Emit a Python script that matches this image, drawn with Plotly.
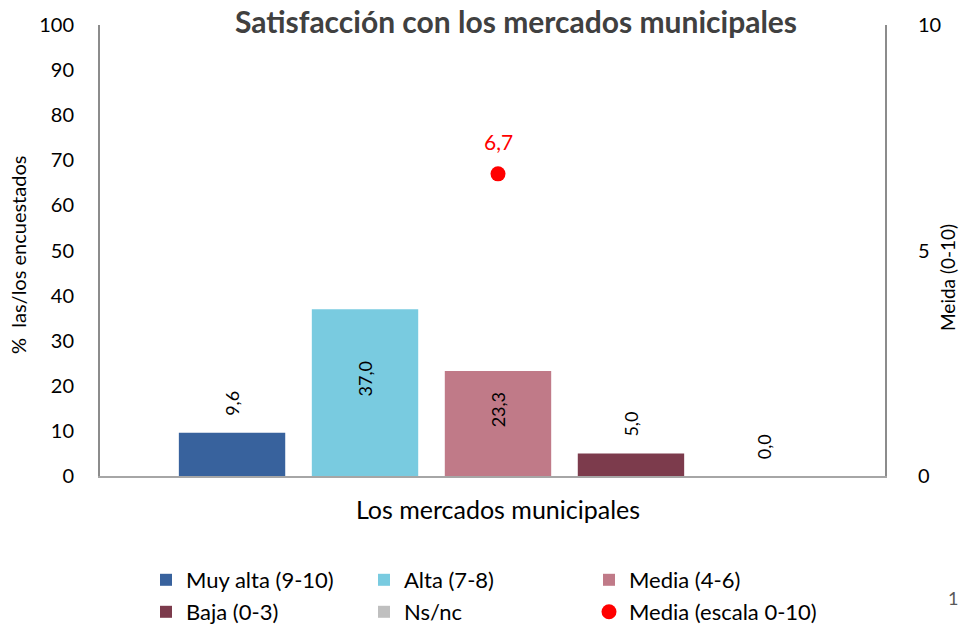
import plotly.graph_objects as go

category = ["Los mercados municipales"]
series_names = ["Muy alta (9-10)", "Alta (7-8)", "Media (4-6)", "Baja (0-3)", "Ns/nc"]
series_values = [9.6, 37.0, 23.3, 5.0, 0.0]
series_colors = ["#38629D", "#79CBE0", "#C07A88", "#7C3B4C", "#BFBFBF"]
label_positions = ["outside", "inside", "inside", "outside", "outside"]
mean_name = "Media (escala 0-10)"
mean_value = [6.7]
left_ticks = [0, 10, 20, 30, 40, 50, 60, 70, 80, 90, 100]
right_ticks = [0, 5, 10]

FONT = "Lato, Carlito, 'Open Sans', sans-serif"
PAD_OUT = "\u00a0\u00a0\u00a0"
PAD_IN = "\u00a0\u00a0\u00a0\u00a0\u00a0\u00a0"

W, H = 960, 627
L, R, T, B = 100, 75, 25, 151
pw, ph = W - L - R, H - T - B

def px_x(x):
    return (x - L) / pw

def px_y(y):
    return (H - B - y) / ph

# legend slots (one legend per entry): left edge px, row centre px
legend_slots = [(146, 580), (364, 580), (589, 580), (146, 612), (364, 612), (589, 612)]
legend_ids = ["legend", "legend2", "legend3", "legend4", "legend5", "legend6"]

fig = go.Figure()
for i, (name, val, col, pos) in enumerate(zip(series_names, series_values, series_colors, label_positions)):
    pad = PAD_OUT if pos == "outside" else PAD_IN
    fig.add_trace(go.Bar(
        x=category, y=[val], name=name,
        marker=dict(color=col, line=dict(width=0)),
        texttemplate=pad + "%{y:.1f}", textposition=pos, textangle=-90,
        insidetextanchor="middle", constraintext="none",
        textfont=dict(family=FONT, size=18, color="#000000"),
        cliponaxis=False, showlegend=True,
        legend=legend_ids[i],
    ))

fig.add_trace(go.Scatter(
    x=category, y=mean_value, name=mean_name, yaxis="y2",
    mode="markers",
    marker=dict(color="#FF0000", size=15),
    cliponaxis=False, showlegend=True,
    legend=legend_ids[5],
))

legend_layout = {}
for lid, (lx, ly) in zip(legend_ids, legend_slots):
    legend_layout[lid] = dict(
        orientation="h", xref="paper", yref="paper",
        xanchor="left", yanchor="middle",
        x=px_x(lx), y=px_y(ly),
        font=dict(family=FONT, size=22, color="#000000"),
        bgcolor="rgba(0,0,0,0)", itemclick=False,
    )

annotations = [
    dict(text="%  las/los encuestados", textangle=-90, showarrow=False,
         xref="paper", yref="paper", x=px_x(18), y=px_y(255),
         xanchor="center", yanchor="middle",
         font=dict(family=FONT, size=20, color="#000000")),
    dict(text="Meida (0-10)", textangle=-90, showarrow=False,
         xref="paper", yref="paper", x=px_x(947), y=px_y(278),
         xanchor="center", yanchor="middle",
         font=dict(family=FONT, size=19, color="#000000")),
    dict(text="1", showarrow=False, xref="paper", yref="paper",
         x=px_x(960), y=px_y(598), xanchor="right", yanchor="middle",
         font=dict(family=FONT, size=18, color="#595959")),
]
for v in mean_value:
    annotations.append(dict(
        text=f"{v:.1f}".replace(".", ","), showarrow=False,
        xref="x", yref="y2", x=category[0], y=v, yshift=32,
        xanchor="center", yanchor="middle",
        font=dict(family=FONT, size=21, color="#FF0000"),
    ))

fig.update_layout(
    width=W, height=H,
    showlegend=True,
    margin=dict(l=L, r=R, t=T, b=B, autoexpand=False),
    paper_bgcolor="white", plot_bgcolor="white",
    separators=",.",
    barmode="group", bargap=0.153, bargroupgap=0.2,
    font=dict(family=FONT, color="#000000"),
    title=dict(
        text="<b>Satisfacción con los mercados municipales</b>",
        x=516 / W, xref="container", xanchor="center",
        y=1 - 22 / H, yref="container", yanchor="middle",
        font=dict(family=FONT, size=30, color="#404040"),
    ),
    xaxis=dict(
        type="category", range=[-0.507, 0.493],
        showline=True, linecolor="#A6A6A6", linewidth=2,
        ticks="", showgrid=False, zeroline=False,
        tickfont=dict(family=FONT, size=25, color="#000000"),
        ticklabelstandoff=11,
    ),
    yaxis=dict(
        range=[0, 100], tickvals=left_ticks,
        showline=True, linecolor="#8C8C8C", linewidth=2,
        ticks="", showgrid=False, zeroline=False,
        tickfont=dict(family=FONT, size=20, color="#000000"),
        ticklabelstandoff=20,
    ),
    yaxis2=dict(
        range=[0, 10], tickvals=right_ticks, overlaying="y", side="right",
        showline=True, linecolor="#8C8C8C", linewidth=2,
        ticks="", showgrid=False, zeroline=False,
        tickfont=dict(family=FONT, size=20, color="#000000"),
        ticklabelstandoff=27,
    ),
    annotations=annotations,
    **legend_layout,
)

fig.write_html(
    "out.html",
    config={"displayModeBar": False},
    post_script="document.body.style.margin='0';document.body.style.padding='0';",
)
